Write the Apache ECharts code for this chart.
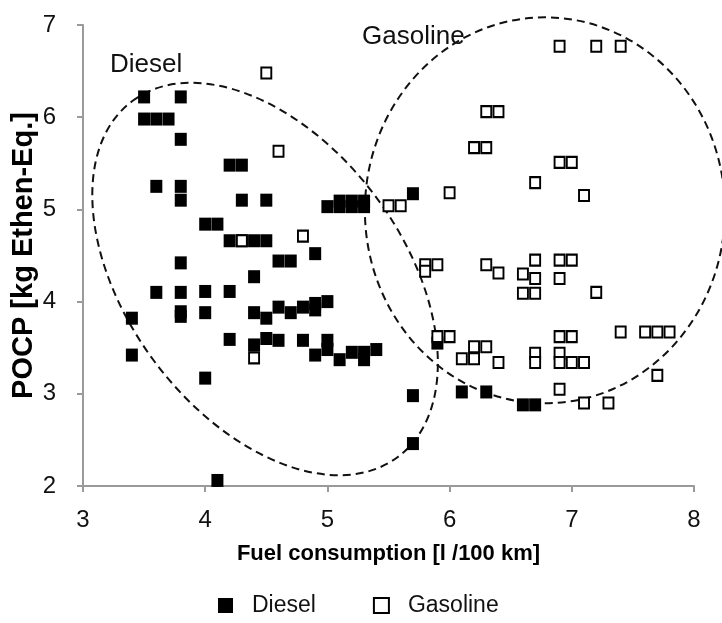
<!DOCTYPE html>
<html>
<head>
<meta charset="utf-8">
<script src="https://cdn.jsdelivr.net/npm/echarts@6/dist/echarts.min.js"></script>
<style>
html,body{margin:0;padding:0;background:#fff;}
#chart{width:722px;height:623px;}
</style>
</head>
<body>
<div id="chart"></div>
<script>
// Diesel vehicles
var dieselFuel = [3.5,3.8,3.5,3.6,3.7,3.8,4.2,4.3,3.6,3.8,3.8,4.3,4.5,4.0,4.1,4.2,4.3,4.4,4.5,3.8,4.6,4.7,4.4,4.9,3.6,3.8,4.0,4.2,3.8,3.8,4.0,3.4,3.4,4.0,4.1,4.2,4.4,4.5,4.6,4.7,4.8,4.9,4.9,5.0,4.4,4.5,4.6,4.8,4.9,5.0,5.0,5.1,5.2,5.3,5.3,5.4,5.7,5.7,5.9,6.1,6.3,6.6,6.7,5.7,5.0,5.1,5.2,5.3,5.1,5.2,5.3];
var dieselPocp = [6.22,6.22,5.98,5.98,5.98,5.76,5.48,5.48,5.25,5.25,5.10,5.10,5.10,4.84,4.84,4.66,4.66,4.66,4.66,4.42,4.44,4.44,4.27,4.52,4.10,4.10,4.11,4.11,3.89,3.84,3.88,3.82,3.42,3.17,2.06,3.59,3.88,3.82,3.94,3.88,3.94,3.98,3.91,4.00,3.53,3.60,3.58,3.58,3.42,3.58,3.48,3.37,3.45,3.45,3.37,3.48,2.98,2.46,3.55,3.02,3.02,2.88,2.88,5.17,5.03,5.03,5.03,5.03,5.09,5.09,5.09];
// Gasoline vehicles
var gasolineFuel = [4.5,4.6,4.8,4.3,4.4,5.5,5.6,6.9,7.2,7.4,6.3,6.4,6.2,6.3,6.9,7.0,6.7,6.0,7.1,5.8,5.9,5.8,6.3,6.4,6.7,6.6,6.7,6.6,6.7,6.9,7.0,6.9,7.2,5.9,6.0,6.2,6.3,6.1,6.2,6.4,6.7,6.7,6.9,7.0,6.9,6.9,7.0,7.1,6.9,7.1,7.3,7.4,7.6,7.7,7.8,7.7];
var gasolinePocp = [6.48,5.63,4.71,4.66,3.39,5.04,5.04,6.77,6.77,6.77,6.06,6.06,5.67,5.67,5.51,5.51,5.29,5.18,5.15,4.40,4.40,4.33,4.40,4.31,4.45,4.30,4.25,4.09,4.09,4.45,4.45,4.25,4.10,3.62,3.62,3.51,3.51,3.38,3.38,3.34,3.44,3.34,3.62,3.62,3.44,3.34,3.34,3.34,3.05,2.90,2.90,3.67,3.67,3.67,3.67,3.20];
// Group outlines (centre in data units)
var groupNames = ['Diesel', 'Gasoline'];
var groupCenterFuel = [4.49, 6.78];
var groupCenterPocp = [4.245, 4.99];

var xTicks = {min: 3, max: 8, interval: 1};
var yTicks = {min: 2, max: 7, interval: 1};

function zip(a, b) { return a.map(function (v, i) { return [v, b[i]]; }); }

var FONT = '"Liberation Sans", Arial, sans-serif';
var chart = echarts.init(document.getElementById('chart'), null, {renderer: 'canvas'});

var outlineGeom = [
  {rxU: 1.817, ryU: 1.129, rot: -0.93, useX: true},
  {rxU: 1.473, ryU: 2.093, rot: 0, useX: false}
];

var option = {
  animation: false,
  backgroundColor: '#ffffff',
  grid: {left: 83, right: 28, top: 25, bottom: 137, containLabel: false, outerBoundsMode: 'none'},
  xAxis: {
    type: 'value', min: xTicks.min, max: xTicks.max, interval: xTicks.interval,
    name: 'Fuel consumption [l /100 km]', nameLocation: 'middle', nameGap: 57, nameMoveOverlap: false,
    nameTextStyle: {fontFamily: FONT, fontSize: 22, fontWeight: 'bold', color: '#000'},
    axisLine: {lineStyle: {color: '#9a9a9a', width: 2}},
    axisTick: {show: true, inside: false, length: 6, lineStyle: {color: '#9a9a9a', width: 2}},
    axisLabel: {fontFamily: FONT, fontSize: 24, color: '#111', margin: 22},
    splitLine: {show: false}
  },
  yAxis: {
    type: 'value', min: yTicks.min, max: yTicks.max, interval: yTicks.interval,
    name: 'POCP [kg Ethen-Eq.]', nameLocation: 'middle', nameGap: 45, nameRotate: 90, nameMoveOverlap: false,
    nameTextStyle: {fontFamily: FONT, fontSize: 29, fontWeight: 'bold', color: '#000'},
    axisLine: {show: true, lineStyle: {color: '#9a9a9a', width: 2}},
    axisTick: {show: true, inside: false, length: 6, lineStyle: {color: '#9a9a9a', width: 2}},
    axisLabel: {fontFamily: FONT, fontSize: 24, color: '#111', margin: 27},
    splitLine: {show: false}
  },
  legend: {
    bottom: 6, left: 218, padding: 0, itemWidth: 15, itemHeight: 15, itemGap: 57,
    icon: 'rect',
    textStyle: {fontFamily: FONT, fontSize: 23, color: '#111', padding: [0, 0, 0, 14]},
    data: ['Diesel', 'Gasoline']
  },
  graphic: [
    {type: 'text', left: 110, top: 52, style: {text: 'Diesel', font: '26px ' + FONT, fill: '#111'}},
    {type: 'text', left: 362, top: 24, style: {text: 'Gasoline', font: '26px ' + FONT, fill: '#111'}}
  ],
  series: [
    {
      name: 'Diesel', type: 'scatter', symbol: 'rect', symbolSize: [12, 13],
      itemStyle: {color: '#000', opacity: 1},
      data: zip(dieselFuel, dieselPocp), z: 3
    },
    {
      name: 'Gasoline', type: 'scatter', symbol: 'rect', symbolSize: [10, 11],
      itemStyle: {color: '#fff', borderColor: '#000', borderWidth: 2, opacity: 1},
      data: zip(gasolineFuel, gasolinePocp), z: 4
    },
    {
      name: 'outlines', type: 'custom', clip: false, silent: true, z: 2,
      data: groupNames.map(function (n, i) { return [groupCenterFuel[i], groupCenterPocp[i], i]; }),
      renderItem: function (params, api) {
        var i = api.value(2);
        var c = api.coord([api.value(0), api.value(1)]);
        var unit = api.size([1, 1]);
        var g = outlineGeom[i];
        var rx = g.rxU * unit[0];
        var ry = g.useX ? g.ryU * unit[0] : g.ryU * unit[1];
        return {
          type: 'ellipse',
          x: c[0], y: c[1], rotation: g.rot,
          shape: {cx: 0, cy: 0, rx: rx, ry: ry},
          style: {fill: 'none', stroke: '#111', lineWidth: 2, lineDash: [8, 5]}
        };
      },
      tooltip: {show: false}
    }
  ]
};
chart.setOption(option);
</script>
</body>
</html>
